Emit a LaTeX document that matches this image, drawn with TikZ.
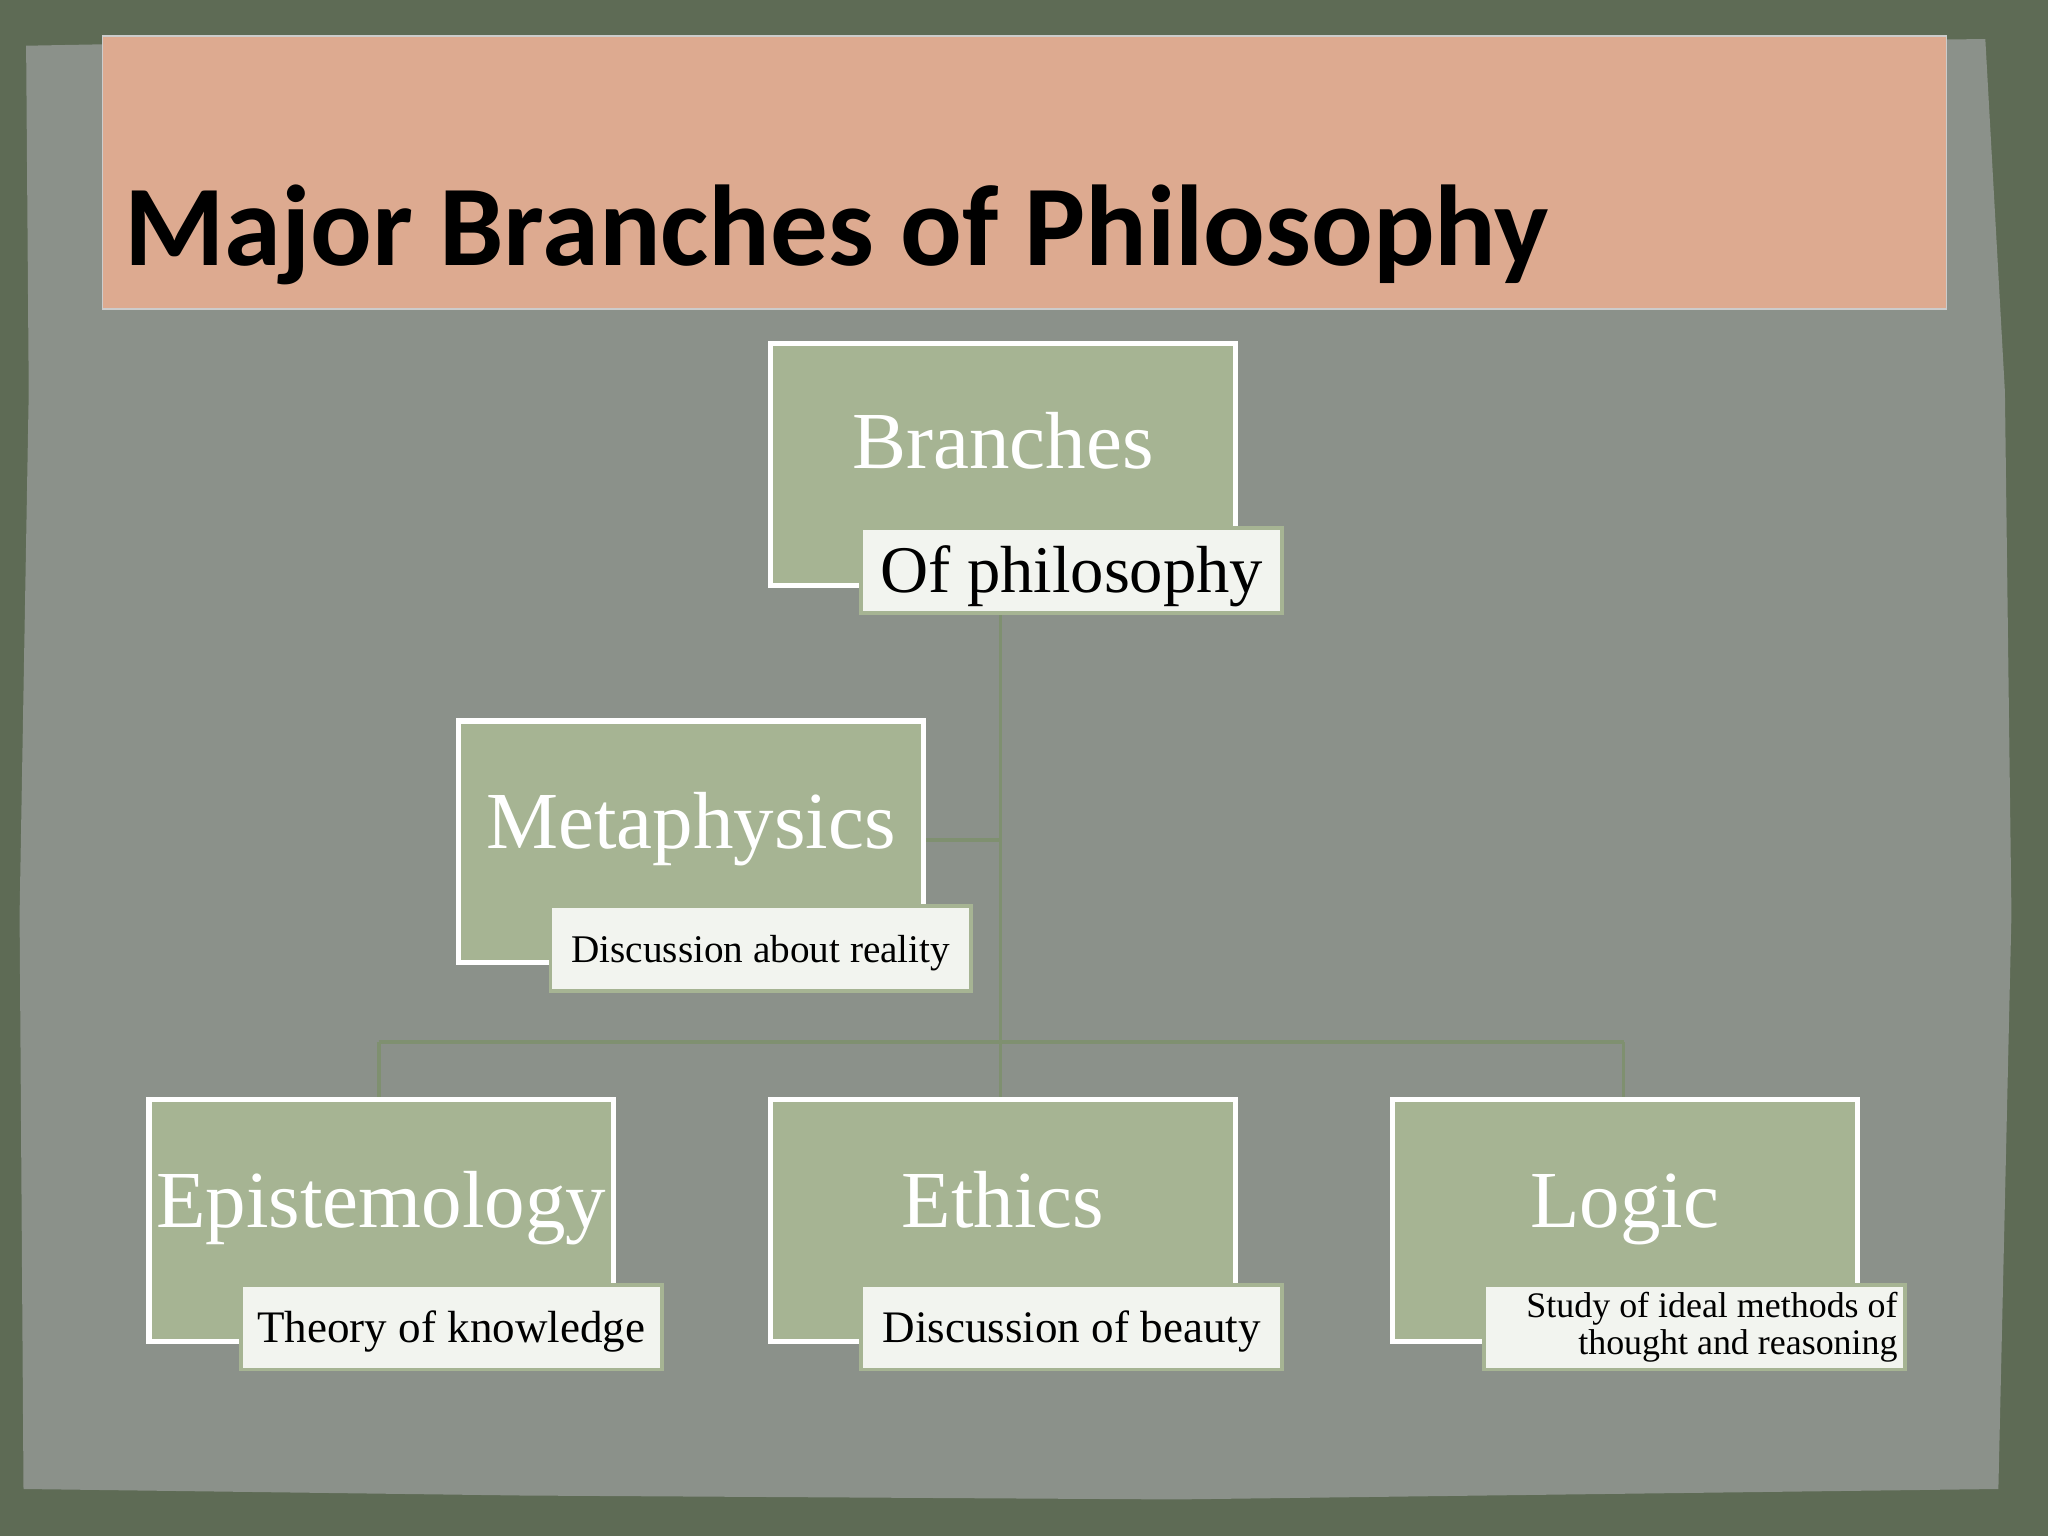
\documentclass[tikz,border=0pt]{standalone}
\usepackage{fontspec}
\newfontfamily\titlefont{Carlito}
\setmainfont{Liberation Serif}
\begin{document}
\begin{tikzpicture}[x=1pt,y=-1pt,
  mainbox/.style={draw=white,line width=4pt,fill=boxgreen,minimum width=356pt,minimum height=185pt,anchor=north west,inner sep=0pt},
  lblbox/.style={draw=boxgreen,line width=3pt,fill=lblfill,minimum width=322pt,minimum height=65pt,anchor=north west,inner sep=0pt},
  conn/.style={draw=linegreen,line width=3pt}]
\definecolor{boxgreen}{HTML}{A6B493}
\definecolor{lblfill}{HTML}{F2F4EF}
\definecolor{linegreen}{HTML}{7F9070}
\definecolor{outer}{HTML}{5E6B55}
\definecolor{paper}{HTML}{8B918A}
\definecolor{peach}{HTML}{DDAA90}
\useasboundingbox (0,0) rectangle (1568,1176);
\fill[outer] (0,0) rectangle (1568,1176);
\fill[paper] (20,35) -- (400,28) -- (900,32) -- (1520,30) -- (1535,300) -- (1540,700) -- (1530,1140) -- (900,1148) -- (400,1145) -- (18,1140) -- (15,700) -- (22,300) -- cycle;
\node[draw=white!60!gray,line width=1pt,fill=peach,minimum width=1412pt,minimum height=209pt,anchor=north west,inner sep=0pt] (title) at (78,27) {};
\node[anchor=base west,inner sep=0pt,font=\titlefont\bfseries\fontsize{88}{100}\selectfont] (ttext) at (95,203) {Major Branches of Philosophy};
\coordinate (jm) at (766,643);
\coordinate (jh) at (766,798);
\coordinate (jl) at (290,798);
\coordinate (jr) at (1243,798);
\coordinate (jt) at (766,467);
\draw[conn] (jt) -- (jh);
\draw[conn] (jm) -- (700,643);
\draw[conn] (jl) -- (jr);
\draw[conn] (jl) -- (290,840);
\draw[conn] (jr) -- (1243,840);
\draw[conn] (jh) -- (766,840);
\node[mainbox] (br) at (588,261) {};
\node[mainbox] (me) at (349,550) {};
\node[mainbox] (ep) at (112,840) {};
\node[mainbox] (et) at (588,840) {};
\node[mainbox] (lo) at (1064,840) {};
\foreach \n/\t/\yy in {br/Branches/359,me/Metaphysics/650,ep/Epistemology/940,et/Ethics/940,lo/Logic/940}{
  \node[text=white,anchor=base,inner sep=0pt,font=\fontsize{62}{66}\selectfont] (t\n) at (\n.north |- 0,\yy) {\t};
}
\node[lblbox] (lbr) at (658,403) {};
\node[anchor=base,inner sep=0pt,font=\fontsize{51}{55}\selectfont] at ([yshift=-17pt]lbr.center) {Of philosophy};
\node[lblbox] (lme) at (420,692) {};
\node[anchor=base,inner sep=0pt,font=\fontsize{30}{34}\selectfont] at ([yshift=-11pt]lme.center) {Discussion about reality};
\node[lblbox] (lep) at (183,982) {};
\node[anchor=base,inner sep=0pt,font=\fontsize{34.5}{38}\selectfont] at ([yshift=-12pt]lep.center) {Theory of knowledge};
\node[lblbox] (let) at (658,982) {};
\node[anchor=base,inner sep=0pt,font=\fontsize{34.5}{38}\selectfont] at ([yshift=-12pt]let.center) {Discussion of beauty};
\node[lblbox] (llo) at (1135,982) {};
\node[font=\fontsize{27.5}{28}\selectfont,align=right,anchor=east,inner sep=0pt] at ([xshift=-7pt]llo.east) {Study of ideal methods of\\thought and reasoning};
\end{tikzpicture}
\end{document}
